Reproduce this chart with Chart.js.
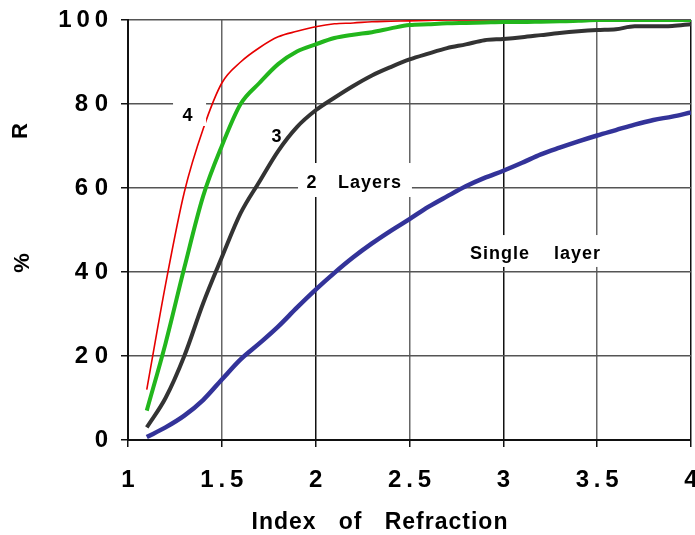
<!DOCTYPE html>
<html lang="en">
<head>
<meta charset="UTF-8">
<title>Reflectance vs index of refraction</title>
<script src="https://cdn.jsdelivr.net/npm/chart.js"></script>
<style>
  body { margin: 0; background: #fff; }
  #wrap { width: 695px; height: 535px; }
</style>
</head>
<body>
<div id="wrap"><canvas id="chart" width="695" height="535"></canvas></div>
<script>
// index of refraction, one point every 0.1
const indexValues = [1.1, 1.2, 1.3, 1.4, 1.5, 1.6, 1.7, 1.8, 1.9, 2.0,
                     2.1, 2.2, 2.3, 2.4, 2.5, 2.6, 2.7, 2.8, 2.9, 3.0,
                     3.1, 3.2, 3.3, 3.4, 3.5, 3.6, 3.7, 3.8, 3.9, 4.0];

const singleLayer = [0.7, 3, 5.8, 9.5, 14.4, 19.2, 23, 27, 31.5, 35.8,
                     39.8, 43.5, 46.8, 49.8, 52.6, 55.5, 58, 60.4, 62.4, 64.1,
                     66, 68, 69.6, 71.1, 72.5, 73.8, 75.1, 76.2, 77, 78];
const twoLayers = [3, 10, 20, 32.5, 43.5, 54, 61.5, 68.8, 74.5, 78.5,
                   81.5, 84.3, 86.8, 88.8, 90.6, 92, 93.3, 94.2, 95.2, 95.5,
                   95.9, 96.4, 96.9, 97.3, 97.6, 97.8, 98.5, 98.5, 98.6, 99];
const threeLayers = [7, 23, 41, 58, 70, 80, 85, 89.5, 92.5, 94.2,
                     95.7, 96.5, 97.1, 98, 98.8, 99, 99.2, 99.3, 99.4, 99.5,
                     99.5, 99.6, 99.7, 99.8, 100, 100, 100, 100, 100, 100];
// the 4-layer curve stops at 3.1
const fourLayers = [12, 37, 59, 74, 85, 90, 93.4, 96, 97.3, 98.4,
                    99.1, 99.3, 99.6, 99.7, 99.8, 99.9, 100, 100, 100, 100, 100];

const xTicks = [1, 1.5, 2, 2.5, 3, 3.5, 4];
const yTicks = [0, 20, 40, 60, 80, 100];

// labels written on the plot (data coordinates), with the white patch behind them
const notes = [
  { text: '4', x: 1.32, y: 77.1, box: [1.24, 1.416, 80.95, 74.76] },
  { text: '3', x: 1.794, y: 72.1 },
  { text: '2', x: 1.98, y: 61.2, box: [1.906, 2.513, 65.95, 57.86] },
  { text: 'Layers', x: 2.289, y: 61.2 },
  { text: 'Single', x: 2.982, y: 44.3, box: [2.806, 3.531, 48.8, 41.2] },
  { text: 'layer', x: 3.395, y: 44.3 }
];

const FONT = "'Liberation Sans', Arial, sans-serif";

function toPoints(ys) {
  return ys.map((y, i) => ({ x: indexValues[i], y: y }));
}

// the original spreads the digits of the tick labels
function spacedX(v) {
  return String(v).split('').join('\u2009');
}
function spacedY(v) {
  const s = String(v);
  return s.split('').join(s.length > 2 ? '\u2009' : ' ');
}

const notesPlugin = {
  id: 'notes',
  afterDatasetsDraw(chart) {
    const ctx = chart.ctx;
    const xs = chart.scales.x, ys = chart.scales.y;
    ctx.save();
    ctx.fillStyle = '#fff';
    notes.forEach(n => {
      if (!n.box) return;
      const x0 = xs.getPixelForValue(n.box[0]), x1 = xs.getPixelForValue(n.box[1]);
      const y0 = ys.getPixelForValue(n.box[2]), y1 = ys.getPixelForValue(n.box[3]);
      ctx.fillRect(x0, y0, x1 - x0, y1 - y0);
    });
    ctx.fillStyle = '#000';
    ctx.font = 'bold 18px ' + FONT;
    ctx.letterSpacing = '1px';
    ctx.textAlign = 'center';
    ctx.textBaseline = 'middle';
    notes.forEach(n => {
      ctx.fillText(n.text, xs.getPixelForValue(n.x), ys.getPixelForValue(n.y));
    });
    ctx.restore();
  },
  afterDraw(chart) {
    const ctx = chart.ctx;
    ctx.save();
    ctx.fillStyle = '#000';
    ctx.textAlign = 'center';
    ctx.textBaseline = 'middle';
    // x axis title
    ctx.font = 'bold 23px ' + FONT;
    ctx.letterSpacing = '1px';
    ctx.fillText('Index   of   Refraction', 380, 523);
    // y axis title, rotated
    ctx.letterSpacing = '0px';
    ctx.font = 'bold 22px ' + FONT;
    [['R', 21, 131], ['%', 23, 263]].forEach(t => {
      ctx.save();
      ctx.translate(t[1], t[2]);
      ctx.rotate(-Math.PI / 2);
      ctx.fillText(t[0], 0, 0);
      ctx.restore();
    });
    ctx.restore();
  }
};

const line = (data, color, width) => ({
  data: toPoints(data),
  borderColor: color,
  borderWidth: width,
  pointRadius: 0,
  fill: false,
  cubicInterpolationMode: 'monotone'
});

new Chart(document.getElementById('chart'), {
  type: 'line',
  data: {
    datasets: [
      line(singleLayer, '#333399', 4.5),
      line(twoLayers, '#333333', 4),
      line(threeLayers, '#22b61c', 4),
      line(fourLayers, '#e60000', 1.6)
    ]
  },
  options: {
    responsive: false,
    animation: false,
    devicePixelRatio: 1,
    layout: { padding: { top: 20, right: 4, left: 0, bottom: 0 } },
    plugins: { legend: { display: false }, tooltip: { enabled: false } },
    scales: {
      x: {
        type: 'linear',
        min: 1, max: 4,
        afterBuildTicks(scale) { scale.ticks = xTicks.map(v => ({ value: v })); },
        afterFit(scale) { scale.height = 95; scale.paddingLeft = 0; scale.paddingRight = 0; },
        ticks: {
          color: '#000',
          padding: 19,
          maxRotation: 0,
          font: { family: FONT, size: 24, weight: 'bold' },
          callback: v => spacedX(v)
        },
        grid: {
          color: ctx => (ctx.tick && Number.isInteger(ctx.tick.value)) ? '#111' : '#666',
          lineWidth: 1.5,
          tickLength: 7,
          tickColor: '#111'
        },
        border: { color: '#111', width: 2 }
      },
      y: {
        min: 0, max: 100,
        afterBuildTicks(scale) { scale.ticks = yTicks.map(v => ({ value: v })); },
        afterFit(scale) { scale.width = 128; scale.paddingTop = 0; scale.paddingBottom = 0; },
        ticks: {
          color: '#000',
          padding: 13,
          font: { family: FONT, size: 24, weight: 'bold' },
          callback: v => spacedY(v)
        },
        grid: {
          color: '#555',
          lineWidth: 1.5,
          tickLength: 7,
          tickColor: '#111'
        },
        border: { color: '#111', width: 2 }
      }
    }
  },
  plugins: [notesPlugin]
});
</script>
</body>
</html>
